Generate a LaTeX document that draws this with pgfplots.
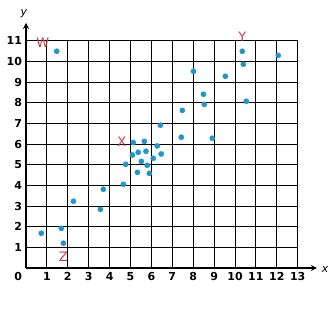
\documentclass[border=0pt]{standalone}
\usepackage{fontspec}
\setmainfont{DejaVu Sans}
\usepackage{pgfplots}
\pgfplotsset{compat=1.18}
\usetikzlibrary{arrows.meta}
\definecolor{dot}{RGB}{30,150,205}
\definecolor{lab}{RGB}{205,60,70}
\begin{document}
\begin{tikzpicture}
\begin{axis}[
 x=20.9pt, y=20.66pt,
 xmin=0, xmax=13, ymin=0, ymax=11,
 axis line style={draw=none},
 grid=major, grid style={black, line width=0.95pt},
 xtick={1,...,13}, ytick={1,...,11},
 major tick length=0pt,
 tick label style={font=\bfseries\fontsize{11}{13}\selectfont},
 /pgf/number format/assume math mode=true,
 xticklabel style={yshift=-1pt},
 yticklabel style={xshift=-0.5pt},
 clip=false,
]
\addplot[only marks, mark=*, mark size=2.6pt, color=dot] coordinates {
(1.47,10.49) (10.35,10.49) (12.07,10.29) (10.40,9.86) (8.01,9.52) (9.54,9.28)
(8.49,8.41) (8.53,7.92) (10.54,8.07) (7.48,7.63) (7.43,6.33) (8.91,6.28)
(6.43,6.91) (5.13,6.07) (5.66,6.13) (6.28,5.91) (5.09,5.47) (5.37,5.60)
(5.74,5.65) (6.47,5.52) (6.09,5.31) (5.52,5.16) (4.77,5.02) (5.80,4.97)
(5.33,4.63) (5.90,4.58) (4.66,4.05) (3.70,3.81) (2.27,3.23) (3.56,2.84)
(1.69,1.92) (0.73,1.68) (1.79,1.20)
};
\draw[line width=2.6pt, -{Stealth[length=6pt,width=6pt]}] (axis cs:0,0) -- (axis cs:13.92,0);
\draw[line width=2.6pt, -{Stealth[length=6pt,width=6pt]}] (axis cs:0,0) -- (axis cs:0,11.86);
\node[font=\bfseries\fontsize{11}{13}\selectfont] at (axis cs:-0.37,-0.42) {0};
\node[font=\itshape\fontsize{11}{13}\selectfont] at (axis cs:14.31,-0.05) {x};
\node[font=\itshape\fontsize{11}{13}\selectfont] at (axis cs:-0.1,12.29) {y};
\node[text=lab, font=\fontsize{13}{15}\selectfont] at (axis cs:0.80,10.91) {W};
\node[text=lab, font=\fontsize{13}{15}\selectfont] at (axis cs:4.58,6.11) {X};
\node[text=lab, font=\fontsize{13}{15}\selectfont] at (axis cs:10.35,11.2) {Y};
\node[text=lab, font=\fontsize{13}{15}\selectfont] at (axis cs:1.79,0.52) {Z};
\end{axis}
\pgfresetboundingbox
\path (-26pt,-45pt) rectangle (309pt,268pt);
\end{tikzpicture}
\end{document}
